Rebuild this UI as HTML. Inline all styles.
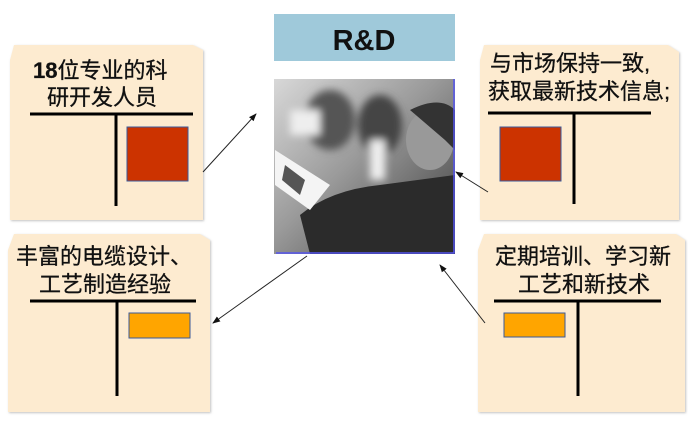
<!DOCTYPE html>
<html><head><meta charset="utf-8"><style>
html,body{margin:0;padding:0;background:#fff;width:688px;height:422px;overflow:hidden}
text{font-family:"Liberation Sans","Noto Sans CJK SC",sans-serif;fill:#111}
</style></head><body>
<svg width="688" height="422" viewBox="0 0 688 422" xmlns="http://www.w3.org/2000/svg">
<defs>
<linearGradient id="ph" x1="0" y1="0" x2="1" y2="1">
<stop offset="0" stop-color="#d8d8d8"/><stop offset="0.45" stop-color="#9a9a9a"/><stop offset="1" stop-color="#3a3a3a"/>
</linearGradient>
<filter id="bl"><feGaussianBlur stdDeviation="4"/></filter>
<marker id="ah" markerWidth="8" markerHeight="8" refX="7" refY="4" orient="auto" markerUnits="userSpaceOnUse"><path d="M0,1 L8,4 L0,7 Z" fill="#111"/></marker>
<filter id="sh"><feDropShadow dx="1" dy="1" stdDeviation="1" flood-color="#999" flood-opacity="0.6"/></filter>
</defs>
<g fill="#fdebd0" filter="url(#sh)">
<path d="M14,45 L193,45 L203,50 L203,220 L10,220 L10,60 Z"/>
<path d="M14,234 L200,234 L210,240 L210,412 L8,412 L8,250 Z"/>
<path d="M484,45 L668,45 L679,52 L679,220 L480,220 L480,60 Z"/>
<path d="M484,234 L676,234 L685,240 L685,412 L478,412 L478,250 Z"/>
</g>
<rect x="274" y="14" width="181" height="47" fill="#9fc9da"/>
<text x="364" y="50" text-anchor="middle" font-size="29" font-weight="bold">R&amp;D</text>
<rect x="274" y="79" width="181" height="175" fill="url(#ph)"/>
<g filter="url(#bl)">
<ellipse cx="330" cy="120" rx="25" ry="30" fill="#555"/>
<ellipse cx="380" cy="125" rx="22" ry="30" fill="#444"/>
<rect x="290" y="110" width="30" height="25" fill="#eee"/>
<rect x="370" y="140" width="15" height="40" fill="#eee"/>
</g>
<path d="M300,215 Q330,190 380,185 L455,175 L455,254 L310,254 Z" fill="#2b2b2b"/>
<ellipse cx="430" cy="140" rx="24" ry="30" fill="#999"/>
<path d="M410,110 Q440,95 455,110 L455,150 L445,140 Z" fill="#333"/>
<path d="M275,150 L330,185 L310,210 L275,185 Z" fill="#f4f4f4"/>
<path d="M285,165 L305,180 L300,195 L282,180 Z" fill="#555"/>
<path d="M454,79 L454,253 L276,253" fill="none" stroke="#5555ee" stroke-width="1.5"/>
<g font-size="22" stroke="#111" stroke-width="0.3">
<text x="33" y="78"><tspan font-weight="bold">18</tspan>位专业的科</text>
<text x="47" y="105">研开发人员</text>
<text x="16" y="264">丰富的电缆设计、</text>
<text x="39" y="292">工艺制造经验</text>
<text x="490" y="71">与市场保持一致,</text>
<text x="488" y="99">获取最新技术信息;</text>
<text x="495" y="264">定期培训、学习新</text>
<text x="518" y="292">工艺和新技术</text>
</g>
<g stroke="#000" stroke-width="3">
<line x1="30" y1="114" x2="193" y2="114"/><line x1="116" y1="114" x2="116" y2="206"/>
<line x1="30" y1="301" x2="196" y2="301"/><line x1="117" y1="301" x2="117" y2="396"/>
<line x1="488" y1="113" x2="651" y2="113"/><line x1="574" y1="113" x2="574" y2="204"/>
<line x1="494" y1="301" x2="661" y2="301"/><line x1="578" y1="301" x2="578" y2="396"/>
</g>
<g stroke="#3a5a9a" stroke-width="1">
<rect x="127" y="127" width="61" height="54" fill="#cc3300"/>
<rect x="500" y="127" width="61" height="54" fill="#cc3300"/>
<rect x="129" y="313" width="61" height="25" fill="#ffa500"/>
<rect x="504" y="313" width="61" height="24" fill="#ffa500"/>
</g>
<g stroke="#222" stroke-width="1" marker-end="url(#ah)">
<line x1="203" y1="172" x2="256" y2="114"/>
<line x1="488" y1="192" x2="456" y2="172"/>
<line x1="307" y1="256" x2="213" y2="323"/>
<line x1="485" y1="323" x2="440" y2="265"/>
</g>
</svg>
</body></html>
